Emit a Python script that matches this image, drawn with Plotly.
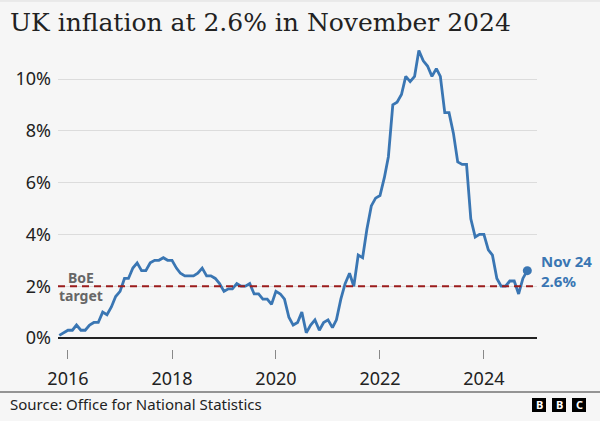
import pandas as pd
import plotly.graph_objects as go

# Monthly CPI annual rate (%), Nov 2015 .. Nov 2024
start_month = "2015-11-01"
cpi = [
    0.1, 0.2,
    0.3, 0.3, 0.5, 0.3, 0.3, 0.5, 0.6, 0.6, 1.0, 0.9, 1.2, 1.6,
    1.8, 2.3, 2.3, 2.7, 2.9, 2.6, 2.6, 2.9, 3.0, 3.0, 3.1, 3.0,
    3.0, 2.7, 2.5, 2.4, 2.4, 2.4, 2.5, 2.7, 2.4, 2.4, 2.3, 2.1,
    1.8, 1.9, 1.9, 2.1, 2.0, 2.0, 2.1, 1.7, 1.7, 1.5, 1.5, 1.3,
    1.8, 1.7, 1.5, 0.8, 0.5, 0.6, 1.0, 0.2, 0.5, 0.7, 0.3, 0.6,
    0.7, 0.4, 0.7, 1.5, 2.1, 2.5, 2.0, 3.2, 3.1, 4.2, 5.1, 5.4,
    5.5, 6.2, 7.0, 9.0, 9.1, 9.4, 10.1, 9.9, 10.1, 11.1, 10.7, 10.5,
    10.1, 10.4, 10.1, 8.7, 8.7, 7.9, 6.8, 6.7, 6.7, 4.6, 3.9, 4.0,
    4.0, 3.4, 3.2, 2.3, 2.0, 2.0, 2.2, 2.2, 1.7, 2.3, 2.6,
]
boe_target = 2.0
y_ticks = [0, 2, 4, 6, 8, 10]
x_tick_years = ["2016", "2018", "2020", "2022", "2024"]
title = "UK inflation at 2.6% in November 2024"
source = "Source: Office for National Statistics"
end_label = ["Nov 24", "2.6%"]
boe_label = ["BoE", "target"]

dates = pd.date_range(start_month, periods=len(cpi), freq="MS")

W, H = 600, 421
L, R, T, B = 58, 63, 50, 72
PW, PH = W - L - R, H - T - B

def px(x):
    return (x - L) / PW

def py(y):
    return (H - B - y) / PH

BLUE = "#3a76b3"
BG = "#f6f6f6"
SANS = "Noto Sans, Open Sans, sans-serif"

fig = go.Figure()
fig.add_trace(go.Scatter(x=dates, y=cpi, mode="lines",
                         line=dict(color=BLUE, width=2.8), hoverinfo="skip"))
fig.add_trace(go.Scatter(x=[dates[-1]], y=[cpi[-1]], mode="markers",
                         marker=dict(color=BLUE, size=9), hoverinfo="skip"))

# BoE target line
fig.add_shape(type="line", xref="paper", yref="y", x0=0, x1=1, y0=boe_target, y1=boe_target,
              line=dict(color="#9b1c1c", width=2, dash="7px,5px"), layer="above")

def label(x, y, text, size, color, xanchor="center", family=SANS, align="center"):
    fig.add_annotation(x=px(x), y=py(y), xref="paper", yref="paper", text=text,
                       xanchor=xanchor, yanchor="middle", showarrow=False, align=align,
                       font=dict(family=family, size=size, color=color))

label(81, 286, "<b>%s<br>%s</b>" % tuple(boe_label), 14, "#666666")
label(539, 271, "<b>%s<br>%s</b>" % tuple(end_label), 15, BLUE, xanchor="left", align="left")

# title
label(8, 22, title, 25, "#222222", xanchor="left", family="DejaVu Serif, serif", align="left")
# footer
fig.add_shape(type="line", xref="paper", yref="paper", x0=px(0), x1=px(600), y0=py(392), y1=py(392),
              line=dict(color="#333333", width=1))
fig.add_shape(type="line", xref="paper", yref="paper", x0=px(0), x1=px(600), y0=py(1), y1=py(1),
              line=dict(color="#dddddd", width=1))
label(8, 404, source, 15, "#222222", xanchor="left", align="left")
for i, letter in enumerate(["B", "B", "C"]):
    x0 = 532 + i * 20
    fig.add_shape(type="rect", xref="paper", yref="paper", x0=px(x0), x1=px(x0 + 14),
                  y0=py(398), y1=py(412), fillcolor="#000000", line=dict(width=0))
    label(x0 + 7, 405, "<b>%s</b>" % letter, 11, "#ffffff")

fig.update_layout(
    width=W, height=H, margin=dict(l=L, r=R, t=T, b=B),
    paper_bgcolor=BG, plot_bgcolor=BG, showlegend=False,
    xaxis=dict(type="date", range=["2015-10-23", "2025-01-08"],
               tickvals=[y + "-01-01" for y in x_tick_years], ticktext=x_tick_years,
               ticks="outside", ticklen=9, tickcolor="#888888", tickwidth=1,
               showgrid=False, zeroline=False, showline=False,
               tickfont=dict(family=SANS, size=18, color="#222222"), ticklabelstandoff=4),
    yaxis=dict(range=[-(349 - 338) / 25.9, 10 + (79 - 50) / 25.9],
               tickvals=y_ticks, ticktext=["%d%%" % v for v in y_ticks],
               showgrid=True, gridcolor="#dcdcdc", gridwidth=1,
               zeroline=True, zerolinecolor="#222222", zerolinewidth=2,
               tickfont=dict(family=SANS, size=18, color="#222222"), ticklabelstandoff=6),
)

fig.write_html("out.html", config={"displayModeBar": False},
               post_script="document.body.style.margin='0';")
